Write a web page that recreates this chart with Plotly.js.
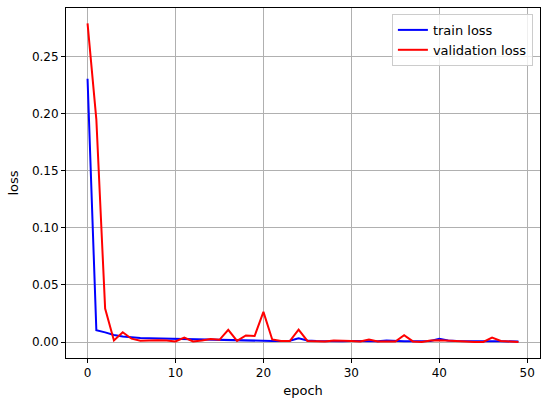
<!DOCTYPE html>
<html>
<head>
<meta charset="utf-8">
<script src="https://cdn.plot.ly/plotly-3.0.1.min.js"></script>
<style>body{margin:0;padding:0;background:#fff;}</style>
</head>
<body>
<div id="chart" style="width:550px;height:406px;"></div>
<script>
// epochs 0..49
var epochs = [];
for (var i = 0; i < 50; i++) epochs.push(i);

var train_loss = [
	0.2305, 0.0105, 0.0085, 0.0062, 0.0050, 0.0042, 0.0036, 0.0033, 0.0031, 0.0030,
	0.0026, 0.0028, 0.0025, 0.0022, 0.0020, 0.0019, 0.0015, 0.0015, 0.0011, 0.0010,
	0.0012, 0.0010, 0.0010, 0.0012, 0.0033, 0.0015, 0.0010, 0.0008, 0.0009, 0.0008,
	0.0009, 0.0008, 0.0008, 0.0008, 0.0014, 0.0009, 0.0008, 0.0008, 0.0007, 0.0010,
	0.0030, 0.0015, 0.0010, 0.0008, 0.0007, 0.0007, 0.0008, 0.0007, 0.0007, 0.0006
];

var val_loss = [
	0.2790, 0.1950, 0.0294, 0.0015, 0.0087, 0.0030, 0.0013, 0.0016, 0.0016, 0.0015,
	0.0006, 0.0040, 0.0006, 0.0015, 0.0027, 0.0020, 0.0108, 0.0010, 0.0058, 0.0053,
	0.0265, 0.0023, 0.0009, 0.0009, 0.0110, 0.0010, 0.0008, 0.0005, 0.0014, 0.0009,
	0.0010, 0.0006, 0.0023, 0.0005, 0.0008, 0.0005, 0.0061, 0.0006, 0.0001, 0.0015,
	0.0017, 0.0015, 0.0010, 0.0005, 0.0001, 0.0001, 0.0040, 0.0010, 0.0005, 0.0001
];

var ytick_vals = [0, 0.05, 0.10, 0.15, 0.20, 0.25];
var xtick_vals = [0, 10, 20, 30, 40, 50];

var plot_train = {
	mode: "lines",
	x: epochs,
	y: train_loss,
	name: "train loss",
	line: {color: "#0000FF", width: 2}
};

var plot_val = {
	mode: "lines",
	x: epochs,
	y: val_loss,
	name: "validation loss",
	line: {color: "#FF0000", width: 2}
};

var axis_common = {
	showline: true,
	mirror: true,
	linecolor: "#000000",
	linewidth: 1,
	ticks: "outside",
	ticklen: 4,
	tickcolor: "#000000",
	showgrid: true,
	gridcolor: "#b0b0b0",
	gridwidth: 1,
	zeroline: false,
	tickfont: {family: "DejaVu Sans", size: 12, color: "#000"}
};

var layout = {
	width: 550,
	height: 406,
	margin: {l: 66, r: 10, t: 8, b: 48},
	paper_bgcolor: "#ffffff",
	plot_bgcolor: "#ffffff",
	font: {family: "DejaVu Sans", size: 12, color: "#000"},
	xaxis: Object.assign({}, axis_common, {
		range: [-2.45, 51.45],
		tickmode: "array",
		tickvals: xtick_vals,
		title: {text: "epoch", font: {size: 13}, standoff: 6}
	}),
	yaxis: Object.assign({}, axis_common, {
		range: [-0.0139, 0.2924],
		tickmode: "array",
		tickvals: ytick_vals,
		tickformat: ".2f",
		title: {text: "loss", font: {size: 13}, standoff: 10}
	}),
	showlegend: true,
	legend: {
		x: 0.985,
		y: 0.983,
		xanchor: "right",
		yanchor: "top",
		bgcolor: "rgba(255,255,255,0.8)",
		bordercolor: "#cccccc",
		borderwidth: 1,
		itemwidth: 30,
		font: {family: "DejaVu Sans", size: 13},
		tracegroupgap: 0
	}
};

Plotly.newPlot("chart", [plot_train, plot_val], layout, {displayModeBar: false, staticPlot: true});
</script>
</body>
</html>
